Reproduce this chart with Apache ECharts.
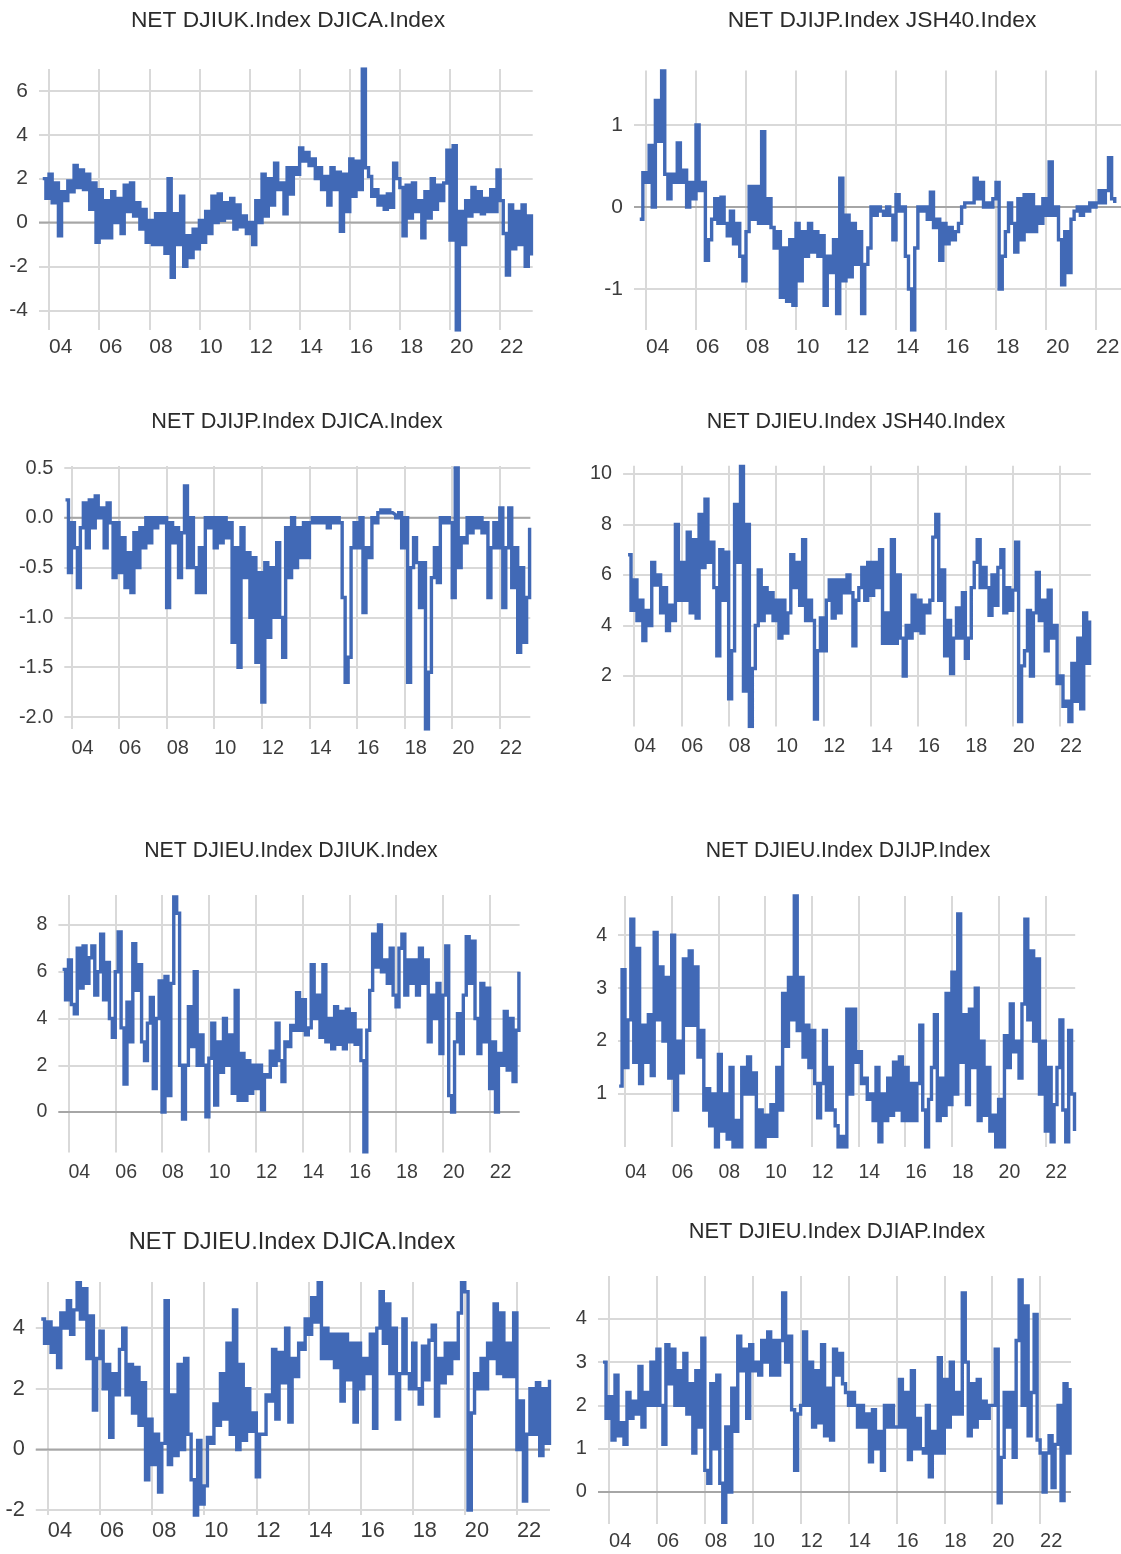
<!DOCTYPE html>
<html>
<head>
<meta charset="utf-8">
<title>NET index spreads</title>
<script src="https://cdn.jsdelivr.net/npm/echarts@6.0.0/dist/echarts.min.js"></script>
<style>
  html, body { margin: 0; padding: 0; background: #ffffff; }
  #chart { width: 1121px; height: 1554px; }
</style>
</head>
<body>
<div id="chart"></div>
<script>
// Observations are sampled every 1/8 of a year, starting at 2003.75.
const START_YEAR = 2003.75;
const STEP = 0.125;

const titles = [
  'NET DJIUK.Index DJICA.Index',
  'NET DJIJP.Index JSH40.Index',
  'NET DJIJP.Index DJICA.Index',
  'NET DJIEU.Index JSH40.Index',
  'NET DJIEU.Index DJIUK.Index',
  'NET DJIEU.Index DJIJP.Index',
  'NET DJIEU.Index DJICA.Index',
  'NET DJIEU.Index DJIAP.Index'
];

const netUkCa = [
  2.0, 1.1,
  2.2, 0.9, 1.8, -0.6, 1.4, 1.0, 1.9, 1.4,
  2.6, 1.6, 2.4, 1.5, 2.2, 0.6, 1.8, -0.9,
  1.5, -0.7, 1.0, -0.7, 1.4, 0.0, 1.1, -0.5,
  1.7, 0.5, 1.8, 0.3, 0.9, -0.3, 0.6, -0.9,
  0.1, -1.0, 0.4, -1.0, 0.4, -1.4, 2.0, -2.5,
  0.4, -1.0, 1.2, -2.0, -0.6, -1.6, -0.3, -1.2,
  0.1, -0.9, 0.5, -0.5, 1.2, 0.0, 1.3, 0.1,
  0.9, 0.2, 1.1, -0.3, 0.8, -0.2, 0.3, -0.5,
  0.0, -1.0, 1.0, 0.0, 2.2, 0.3, 2.0, 0.8,
  2.7, 1.5, 1.8, 0.4, 2.5, 1.3, 2.5, 2.2,
  3.4, 2.8, 3.2, 2.6, 2.9, 2.0, 2.5, 1.5,
  2.1, 0.8, 2.5, 1.5, 2.3, -0.4, 2.2, 0.5,
  2.9, 1.2, 2.8, 1.5, 7.0, 2.5, 2.1, 1.2,
  1.5, 0.8, 1.2, 0.6, 1.3, 0.7, 2.7, 2.0,
  1.6, -0.6, 1.7, 0.2, 1.8, 0.5, 1.0, -0.7,
  1.4, 0.2, 2.0, 0.6, 1.7, 1.0, 1.8, 3.3,
  -0.8, 3.5, -4.9, 0.5, -1.0, 1.0, 0.3, 1.6,
  0.5, 1.4, 0.4, 1.1, 0.5, 1.5, 0.5, 2.4,
  1.0, -0.5, -2.4, 0.8, -1.2, 0.5, -1.0, 0.8,
  -2.0, 0.3, -1.5
];

const netJpSa = [
  -0.15, 0.42,
  0.3, 0.75, 0.0, 1.3, 0.8, 1.66, 0.4, 0.1,
  0.4, 0.3, 0.78, 0.3, 0.45, 0.0, 0.3, 0.1,
  1.0, 0.2, 0.3, -0.65, -0.4, -0.15, 0.1, -0.2,
  0.12, -0.2, -0.35, -0.05, -0.45, -0.2, -0.6, -0.9,
  -0.3, 0.25, -0.15, 0.25, -0.2, 0.92, -0.2, 0.1,
  -0.25, -0.5, -0.3, -1.1, -0.5, -1.15, -0.4, -1.2,
  -0.2, -0.9, -0.3, -0.6, -0.2, -0.55, -0.3, -0.6,
  -0.35, -1.2, -0.6, -0.8, -0.4, -1.3, 0.35, -0.9,
  -0.1, -0.85, -0.2, -0.7, -0.3, -1.3, -0.7, -0.5,
  0.0, -0.1, 0.0, -0.05, -0.1, 0.0, -0.1, -0.4,
  0.15, -0.05, 0.0, -0.6, -1.0, -1.5, -0.5, 0.0,
  -0.05, 0.0, -0.15, 0.18, -0.25, -0.15, -0.65, -0.2,
  -0.45, -0.25, -0.4, -0.3, -0.2, 0.0, 0.05, 0.05,
  0.05, 0.35, 0.1, 0.3, 0.0, 0.05, 0.0, 0.1,
  0.3, -1.0, -0.6, -0.3, 0.05, -0.2, -0.55, 0.1,
  -0.4, 0.15, -0.3, 0.15, -0.3, 0.0, -0.2, 0.1,
  -0.1, 0.55, -0.1, 0.0, -0.4, -0.95, -0.3, -0.8,
  -0.15, -0.05, 0.0, -0.1, 0.0, -0.05, 0.05, 0.0,
  0.05, 0.2, 0.05, 0.2, 0.6, 0.1, 0.05
];

const netJpCa = [
  0.18, -0.55,
  -0.05, -0.3, -0.7, -0.1, 0.15, -0.3, 0.18, -0.1,
  0.22, 0.0, 0.1, -0.3, 0.15, -0.05, -0.6, -0.05,
  -0.55, -0.2, -0.7, -0.35, -0.75, -0.15, -0.5, -0.1,
  -0.3, 0.0, -0.25, 0.0, -0.1, 0.0, -0.05, 0.0,
  -0.9, -0.05, -0.25, -0.1, -0.6, -0.15, 0.32, -0.5,
  0.0, -0.5, -0.75, -0.3, -0.75, 0.0, -0.1, 0.0,
  -0.3, 0.0, -0.25, 0.0, -0.2, -0.05, -1.25, -0.3,
  -1.5, -0.1, -0.6, -0.35, -1.0, -0.4, -1.45, -0.55,
  -1.85, -0.45, -1.2, -0.5, -1.0, -0.25, -1.0, -1.4,
  -0.1, -0.6, 0.0, -0.5, -0.1, -0.4, -0.05, -0.4,
  -0.05, 0.0, -0.05, 0.0, -0.05, 0.0, -0.1, 0.0,
  -0.05, 0.0, -0.05, -0.8, -1.65, -1.4, -0.3, -0.05,
  -0.3, 0.0, -0.95, -0.3, -0.4, 0.0, -0.05, 0.05,
  0.08, 0.05, 0.08, 0.05, 0.03, 0.0, 0.05, -0.3,
  0.0, -1.65, -0.5, -0.2, -0.45, -0.9, -0.45, -2.12,
  -1.55, -0.6, -0.3, -0.65, 0.0, -0.05, 0.0, -0.05,
  -0.8, 0.5, -0.5, -0.2, -0.25, 0.0, -0.15, 0.0,
  -0.1, 0.0, -0.15, -0.05, -0.8, -0.3, -0.05, -0.3,
  0.1, -0.9, -0.3, 0.1, -0.7, -0.3, -1.35, -0.5,
  -1.25, -0.8, -0.1
];

const netEuSa = [
  6.8, 4.6,
  5.8, 4.2, 5.0, 3.4, 4.6, 4.0, 6.5, 5.6,
  6.0, 4.5, 5.5, 3.8, 4.8, 4.2, 8.0, 5.0,
  6.5, 5.0, 7.7, 4.5, 7.4, 4.3, 8.4, 6.3,
  9.0, 6.5, 7.3, 5.5, 2.8, 7.0, 5.0, 6.9,
  1.1, 3.0, 8.8, 6.5, 10.3, 1.4, 8.0, 0.0,
  2.3, 4.0, 6.2, 4.2, 5.5, 4.5, 5.3, 4.2,
  5.0, 3.5, 5.0, 3.7, 4.5, 6.8, 5.5, 6.5,
  4.8, 7.4, 4.2, 5.0, 4.2, 0.3, 3.0, 4.3,
  3.0, 5.0, 5.8, 4.3, 5.8, 4.5, 5.8, 5.3,
  6.0, 5.3, 3.2, 5.0, 5.5, 6.3, 5.0, 6.5,
  5.2, 6.5, 5.5, 7.0, 3.3, 4.5, 3.3, 7.4,
  3.3, 6.0, 3.5, 2.0, 4.0, 3.5, 5.2, 3.8,
  5.0, 3.7, 4.8, 4.5, 5.0, 7.5, 8.4, 5.0,
  6.2, 2.8, 4.2, 2.1, 3.5, 4.7, 3.5, 5.3,
  2.7, 3.5, 5.5, 6.5, 7.4, 5.5, 6.3, 5.5,
  4.4, 6.0, 4.8, 6.3, 7.0, 4.5, 5.5, 4.6,
  5.4, 7.3, 0.2, 2.4, 3.0, 4.6, 2.0, 4.5,
  6.1, 4.2, 5.0, 3.0, 5.4, 3.5, 4.0, 1.7,
  2.0, 0.8, 1.0, 0.2, 2.5, 1.0, 3.5, 0.7,
  4.5, 2.5, 4.2
];

const netEuUk = [
  6.1, 4.8,
  6.5, 4.6, 4.2, 7.0, 5.3, 7.1, 5.5, 6.6,
  7.1, 5.0, 6.0, 7.6, 4.8, 6.4, 4.0, 3.2,
  6.0, 7.7, 3.6, 1.2, 4.7, 3.0, 7.2, 5.2,
  6.3, 3.0, 2.2, 3.8, 4.9, 1.0, 4.0, 5.6,
  0.0, 5.8, 0.7, 5.5, 9.2, 8.5, 2.0, -0.3,
  2.0, 4.5, 2.8, 6.0, 2.0, 3.3, 2.0, -0.2,
  2.3, 3.8, 0.3, 3.0, 1.7, 4.0, 2.0, 3.3,
  0.8, 5.2, 0.5, 2.5, 0.5, 2.2, 0.8, 2.0,
  1.0, 2.0, 0.1, 1.6, 1.5, 2.6, 2.0, 3.8,
  2.2, 1.3, 3.0, 2.8, 3.7, 3.5, 5.1, 3.5,
  4.8, 3.3, 3.6, 6.3, 4.0, 5.0, 3.2, 6.3,
  3.0, 4.0, 2.7, 4.5, 2.9, 4.3, 2.7, 4.4,
  3.0, 4.2, 2.9, 3.5, 2.2, -1.7, 3.5, 5.2,
  7.6, 6.2, 8.0, 6.0, 6.5, 5.5, 7.0, 5.0,
  4.5, 7.0, 7.6, 5.0, 6.5, 5.5, 6.5, 5.0,
  7.0, 5.5, 6.5, 3.0, 5.0, 4.0, 5.5, 2.5,
  5.0, 7.1, 0.7, 0.0, 3.0, 4.2, 2.5, 5.0,
  7.5, 5.5, 7.3, 4.0, 2.5, 5.5, 3.0, 5.3,
  1.0, 3.0, 0.0, 2.5, 2.0, 4.3, 1.8, 4.0,
  1.3, 3.5, 6.0
];

const netEuJp = [
  1.15, 3.35,
  1.5, 2.4, 4.3, 1.6, 3.75, 1.2, 2.3, 1.6,
  2.5, 1.35, 4.05, 2.4, 3.4, 2.0, 3.2, 1.3,
  4.0, 0.7, 2.0, 1.4, 3.55, 2.3, 3.7, 2.3,
  3.4, 1.7, 2.2, 0.7, 1.1, 0.4, 1.0, 0.0,
  1.75, 0.3, 1.0, 0.15, 1.5, 0.0, 0.5, 0.0,
  1.5, 1.0, 1.7, 1.0, 1.4, 0.0, 0.7, 0.0,
  0.6, 0.2, 0.8, 0.2, 1.5, 0.7, 2.9, 1.9,
  3.2, 2.4, 4.75, 2.2, 3.2, 1.7, 2.3, 1.5,
  2.2, 1.2, 0.55, 1.2, 2.2, 0.7, 1.5, 0.7,
  0.4, 0.0, 0.2, 0.0, 2.6, 1.0, 2.6, 1.6,
  1.8, 1.2, 1.3, 0.9, 1.0, 0.5, 1.5, 0.1,
  1.0, 0.5, 1.3, 0.6, 1.6, 0.7, 1.7, 0.5,
  1.5, 0.5, 1.2, 0.5, 1.2, 2.3, 0.7, 0.0,
  0.9, 1.5, 2.5, 0.5, 1.3, 0.6, 2.9, 0.8,
  3.3, 1.0, 4.4, 1.6, 2.5, 0.8, 2.6, 1.5,
  3.0, 0.5, 2.0, 0.6, 1.5, 0.3, 0.6, 0.0,
  0.9, 0.0, 2.1, 1.5, 2.7, 1.8, 2.0, 1.3,
  2.7, 4.3, 2.4, 3.7, 2.0, 3.55, 1.0, 2.0,
  0.3, 1.5, 0.1, 0.8, 1.5, 2.4, 0.7, 0.1,
  2.2, 1.0, 0.3
];

const netEuCa = [
  4.3, 3.5,
  4.2, 3.2, 4.0, 2.7, 4.5, 4.0, 4.9, 3.8,
  4.6, 5.5, 4.3, 5.3, 3.0, 4.4, 1.3, 3.0,
  3.9, 2.0, 2.8, 0.4, 2.5, 1.8, 3.3, 4.0,
  1.8, 2.8, 1.2, 2.7, 0.8, 2.2, -1.0, 1.0,
  -0.5, 0.5, -1.4, 0.2, 4.9, -0.5, 1.8, -0.2,
  2.8, 0.0, 3.0, 0.5, -1.0, -2.2, 0.3, -1.8,
  -1.2, 0.4, 0.2, 1.5, 0.8, 2.5, 1.0, 3.5,
  0.5, 4.6, 0.0, 2.8, 0.3, 2.0, 0.6, 1.2,
  -0.9, 0.5, 0.5, 1.8, 1.6, 3.3, 1.0, 3.2,
  2.2, 4.0, 0.9, 3.0, 2.4, 3.5, 3.3, 4.3,
  3.8, 5.0, 4.2, 5.5, 3.0, 4.0, 3.0, 3.8,
  2.7, 3.8, 1.6, 3.8, 2.3, 3.5, 0.9, 3.5,
  2.0, 3.0, 2.5, 3.8, 0.7, 4.0, 5.2, 3.5,
  4.8, 2.5, 4.0, 1.0, 2.5, 4.3, 2.5, 2.0,
  3.5, 2.0, 1.5, 3.4, 2.3, 3.6, 4.1, 1.1,
  3.0, 2.2, 3.5, 2.5, 3.5, 3.0, 4.5, 5.5,
  5.2, -2.0, 1.2, 2.5, 2.0, 3.0, 2.0, 3.5,
  3.0, 4.8, 2.5, 4.5, 2.4, 3.5, 2.4, 4.5,
  0.0, 1.6, -1.7, 0.5, 2.0, 0.5, 2.2, -0.2,
  2.0, 0.2, 2.3
];

const netEuAp = [
  3.0, 1.7,
  2.2, 1.2, 2.7, 1.3, 1.6, 1.1, 2.3, 1.7,
  2.1, 1.8, 2.9, 1.5, 2.3, 2.0, 3.0, 2.0,
  3.3, 2.0, 1.1, 3.4, 2.5, 3.3, 2.0, 2.8,
  2.0, 3.2, 1.8, 2.5, 0.9, 2.8, 1.5, 3.55,
  0.5, 0.2, 2.5, 1.0, 2.7, 0.2, -0.7, 1.5,
  0.0, 2.4, 1.4, 3.6, 2.8, 3.3, 1.7, 3.4,
  2.8, 3.0, 2.7, 3.5, 3.0, 3.7, 2.7, 3.5,
  2.7, 3.5, 4.6, 3.0, 3.6, 1.9, 0.5, 1.8,
  2.0, 3.7, 2.0, 3.0, 1.5, 2.8, 1.6, 3.4,
  1.3, 2.4, 1.2, 3.3, 2.7, 3.2, 2.5, 2.3,
  2.0, 2.3, 2.0, 1.5, 2.0, 1.5, 1.8, 0.7,
  1.9, 1.0, 1.4, 0.5, 2.0, 1.5, 2.0, 1.5,
  1.5, 2.6, 1.5, 2.3, 0.75, 2.8, 1.0, 1.7,
  1.0, 0.9, 2.0, 0.35, 1.4, 0.9, 3.1, 0.9,
  2.6, 1.5, 3.0, 1.8, 2.3, 1.8, 4.6, 3.0,
  1.3, 2.5, 1.5, 2.6, 1.7, 2.1, 1.7, 2.0,
  2.0, 3.3, -0.25, 0.8, 2.3, 1.5, 2.3, 0.8,
  3.5, 4.9, 2.0, 4.3, 1.3, 2.3, 4.1, 1.2,
  0.9, 0.0, 0.9, 1.3, 0.1, 1.1, 2.0, -0.2,
  2.5, 0.9, 2.4
];

const seriesValues = [netUkCa, netJpSa, netJpCa, netEuSa, netEuUk, netEuJp, netEuCa, netEuAp];

// Y-axis tick spacing and decimals of each panel's labels
const yTickStep = [2, 1, 0.5, 2, 2, 1, 2, 1];
const yTickDecimals = [0, 0, 1, 0, 0, 0, 0, 0];
// Panels whose value range crosses zero get a zero line
const hasZeroLine = [true, true, true, false, true, false, true, true];

// Panel layout: plot box in pixels, axis ranges, text sizes
const layout = [
  { cx: 288, cy: 21,   left: 39,    top: 69,    width: 493.7, height: 261,   xMin: 2003.6,  xMax: 2023.3,  yMin: -4.9,  yMax: 7.0,   font: 22.8, xLabelGap: 6.5 },
  { cx: 882, cy: 21,   left: 634,   top: 70.5,  width: 494.5, height: 259.5, xMin: 2003.52, xMax: 2023.3,  yMin: -1.5,  yMax: 1.665, font: 22.8, xLabelGap: 6.5 },
  { cx: 297, cy: 422,  left: 64.3,  top: 466,   width: 466,   height: 263,   xMin: 2003.7,  xMax: 2023.28, yMin: -2.12, yMax: 0.52,  font: 21.7, xLabelGap: 9 },
  { cx: 856, cy: 422,  left: 623.1, top: 465.7, width: 467.7, height: 260.8, xMin: 2003.54, xMax: 2023.3,  yMin: 0,     yMax: 10.33, font: 21.5, xLabelGap: 10.5 },
  { cx: 291, cy: 851,  left: 58.4,  top: 895,   width: 461.2, height: 257.5, xMin: 2003.57, xMax: 2023.28, yMin: -1.73, yMax: 9.28,  font: 21.3, xLabelGap: 9.7 },
  { cx: 848, cy: 851,  left: 618,   top: 896,   width: 457.2, height: 251,   xMin: 2003.7,  xMax: 2023.28, yMin: 0,     yMax: 4.74,  font: 21.2, xLabelGap: 16 },
  { cx: 292, cy: 1242, left: 35.8,  top: 1282,  width: 514.2, height: 233,   xMin: 2003.54, xMax: 2023.27, yMin: -2.16, yMax: 5.52,  font: 23.7, xLabelGap: 5 },
  { cx: 837, cy: 1232, left: 598,   top: 1276,  width: 473,   height: 248,   xMin: 2003.54, xMax: 2023.29, yMin: -0.74, yMax: 4.99,  font: 21.8, xLabelGap: 7.5 }
];

const FONT = '"Liberation Sans", Arial, Helvetica, sans-serif';
const TEXT = '#2b2b2b';
const LABEL = '#3c3c3c';
const GRID = '#d9d9d9';
const ZERO = '#a6a6a6';
const LINE = '#4169b6';

function yearLabel(v) {
  const y = Math.round(v);
  if (Math.abs(v - y) > 1e-6) return '';
  return String(y % 100).padStart(2, '0');
}

const option = {
  animation: false,
  backgroundColor: '#ffffff',
  title: layout.map((p, i) => ({
    text: titles[i],
    left: p.cx,
    top: p.cy - p.font / 2,
    textAlign: 'center',
    padding: 0,
    textStyle: { fontFamily: FONT, fontSize: p.font, fontWeight: 'normal', color: TEXT }
  })),
  grid: layout.map(p => ({
    left: p.left, top: p.top, width: p.width, height: p.height,
    containLabel: false, outerBoundsMode: 'none'
  })),
  xAxis: layout.map((p, i) => ({
    gridIndex: i,
    type: 'value',
    min: p.xMin,
    max: p.xMax,
    splitNumber: 10,
    minInterval: 2,
    maxInterval: 2,
    axisLine: { show: false, onZero: false },
    axisTick: { show: false },
    axisLabel: {
      align: 'left',
      margin: p.xLabelGap,
      fontFamily: FONT,
      fontSize: p.font * 0.92,
      color: LABEL,
      showMinLabel: false,
      showMaxLabel: false,
      formatter: yearLabel
    },
    splitLine: { show: true, showMinLine: false, showMaxLine: false, lineStyle: { color: GRID, width: 2 } }
  })),
  yAxis: layout.map((p, i) => ({
    gridIndex: i,
    type: 'value',
    min: p.yMin,
    max: p.yMax,
    minInterval: yTickStep[i],
    maxInterval: yTickStep[i],
    axisLine: { show: false },
    axisTick: { show: false },
    axisLabel: {
      margin: 11,
      fontFamily: FONT,
      fontSize: p.font * 0.92,
      color: LABEL,
      showMinLabel: false,
      showMaxLabel: false,
      formatter: v => v.toFixed(yTickDecimals[i])
    },
    splitLine: { show: true, showMinLine: false, showMaxLine: false, lineStyle: { color: GRID, width: 2 } }
  })),
  series: []
};

layout.forEach((p, i) => {
  if (hasZeroLine[i]) {
    option.series.push({
      type: 'line', xAxisIndex: i, yAxisIndex: i, silent: true, z: 1,
      showSymbol: false,
      data: [[p.xMin, 0], [p.xMax, 0]],
      lineStyle: { color: ZERO, width: 2 }
    });
  }
  option.series.push({
    type: 'line', xAxisIndex: i, yAxisIndex: i, z: 3,
    showSymbol: false,
    step: 'end',
    data: seriesValues[i].map((v, k) => [START_YEAR + k * STEP, v]),
    lineStyle: { color: LINE, width: 3.4, join: 'miter' }
  });
});

const chart = echarts.init(document.getElementById('chart'), null, { renderer: 'canvas' });
chart.setOption(option);
</script>
</body>
</html>
